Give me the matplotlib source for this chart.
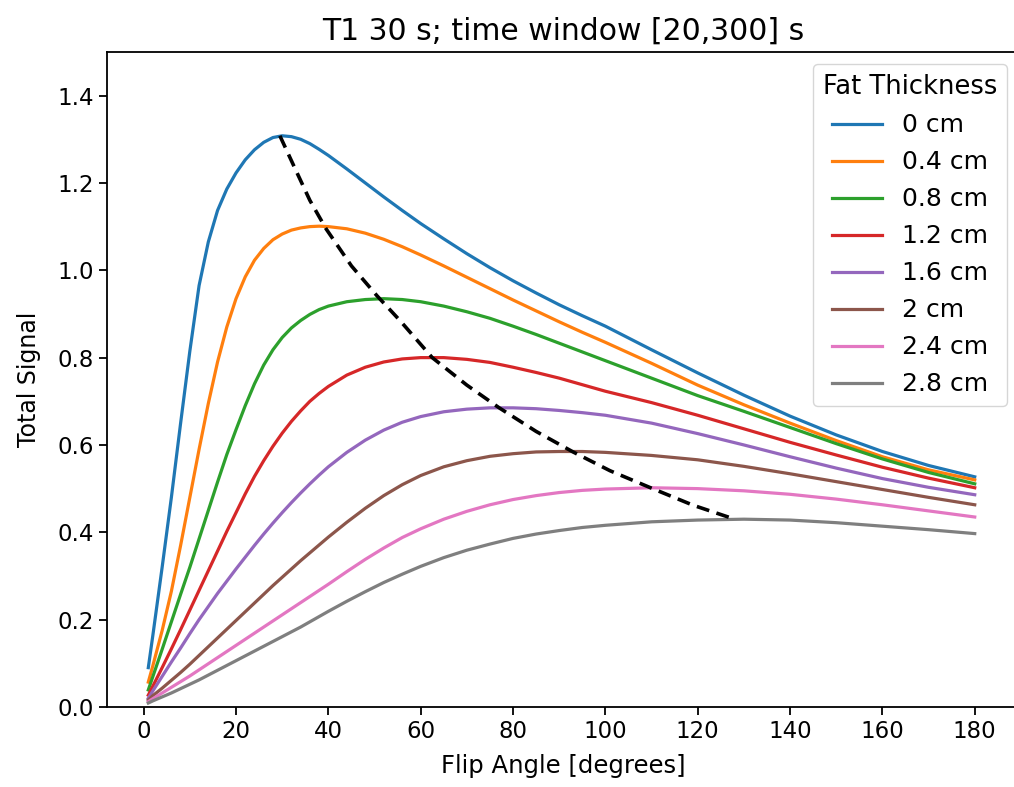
import matplotlib
matplotlib.use('Agg')
import matplotlib.pyplot as plt

# flip angle samples (degrees)
flip = [1, 2, 4, 6, 8, 10, 12, 14, 16, 18, 20, 22, 24, 26, 28, 30, 32, 34, 36, 38, 40,
        44, 48, 52, 56, 60, 65, 70, 75, 80, 85, 90, 95, 100, 110, 120, 130, 140, 150,
        160, 170, 180]

thickness_labels = ['0 cm', '0.4 cm', '0.8 cm', '1.2 cm', '1.6 cm', '2 cm', '2.4 cm', '2.8 cm']

sig_0_0 = [0.09, 0.165, 0.32, 0.48, 0.65, 0.815, 0.965, 1.065, 1.137, 1.186, 1.223, 1.253, 1.276,
           1.293, 1.304, 1.308, 1.306, 1.30, 1.29, 1.277, 1.263, 1.232, 1.20, 1.168, 1.137,
           1.107, 1.072, 1.038, 1.006, 0.976, 0.948, 0.921, 0.896, 0.872, 0.818, 0.765, 0.714,
           0.666, 0.623, 0.585, 0.553, 0.527]
sig_0_4 = [0.057, 0.095, 0.175, 0.265, 0.37, 0.48, 0.59, 0.695, 0.79, 0.87, 0.935, 0.985, 1.023,
           1.05, 1.07, 1.083, 1.092, 1.097, 1.10, 1.101, 1.10, 1.095, 1.085, 1.071, 1.054,
           1.035, 1.01, 0.984, 0.958, 0.932, 0.907, 0.882, 0.858, 0.835, 0.787, 0.737, 0.692,
           0.65, 0.61, 0.573, 0.543, 0.52]
sig_0_8 = [0.039, 0.07, 0.132, 0.195, 0.258, 0.32, 0.385, 0.45, 0.515, 0.578, 0.635, 0.69, 0.74,
           0.783, 0.818, 0.846, 0.868, 0.885, 0.899, 0.91, 0.918, 0.928, 0.933, 0.935, 0.933,
           0.928, 0.918, 0.905, 0.89, 0.872, 0.853, 0.833, 0.813, 0.793, 0.753, 0.713, 0.677,
           0.64, 0.603, 0.568, 0.537, 0.511]
sig_1_2 = [0.027, 0.048, 0.09, 0.133, 0.177, 0.222, 0.267, 0.312, 0.357, 0.402, 0.445, 0.488, 0.528,
           0.564, 0.597, 0.627, 0.654, 0.678, 0.70, 0.718, 0.734, 0.76, 0.778, 0.79, 0.797,
           0.80, 0.80, 0.796, 0.789, 0.778, 0.766, 0.753, 0.738, 0.723, 0.697, 0.668, 0.637,
           0.606, 0.577, 0.549, 0.524, 0.502]
sig_1_6 = [0.02, 0.037, 0.07, 0.103, 0.135, 0.168, 0.20, 0.23, 0.26, 0.288, 0.316, 0.343, 0.37,
           0.396, 0.421, 0.445, 0.468, 0.49, 0.511, 0.531, 0.55, 0.583, 0.611, 0.634, 0.652,
           0.665, 0.676, 0.682, 0.685, 0.685, 0.683, 0.679, 0.674, 0.668, 0.65, 0.626, 0.60,
           0.573, 0.547, 0.523, 0.503, 0.486]
sig_2_0 = [0.016, 0.026, 0.043, 0.061, 0.079, 0.098, 0.118, 0.138, 0.158, 0.178, 0.198, 0.218, 0.238,
           0.258, 0.278, 0.297, 0.316, 0.335, 0.353, 0.371, 0.389, 0.423, 0.455, 0.484, 0.509,
           0.53, 0.55, 0.564, 0.574, 0.58, 0.584, 0.585, 0.585, 0.583, 0.576, 0.566, 0.551,
           0.534, 0.516, 0.498, 0.48, 0.463]
sig_2_4 = [0.012, 0.019, 0.032, 0.045, 0.058, 0.071, 0.085, 0.099, 0.113, 0.127, 0.141, 0.155, 0.169,
           0.183, 0.197, 0.211, 0.225, 0.239, 0.253, 0.267, 0.281, 0.31, 0.338, 0.364, 0.388,
           0.408, 0.43, 0.448, 0.463, 0.475, 0.484, 0.491, 0.496, 0.499, 0.502, 0.50, 0.495,
           0.487, 0.476, 0.463, 0.449, 0.435]
sig_2_8 = [0.009, 0.014, 0.023, 0.032, 0.042, 0.052, 0.062, 0.073, 0.084, 0.095, 0.106, 0.117, 0.128,
           0.139, 0.15, 0.161, 0.172, 0.183, 0.195, 0.207, 0.219, 0.242, 0.264, 0.285, 0.304,
           0.322, 0.342, 0.359, 0.373, 0.386, 0.396, 0.404, 0.411, 0.416, 0.424, 0.428, 0.43,
           0.428, 0.422, 0.414, 0.406, 0.397]

# locus of the maxima (dashed)
peak_angle = [29.5, 33, 36, 39.5, 45, 50.5, 55.5, 62.5, 70, 77, 85, 93, 101, 110, 119, 128]
peak_signal = [1.308, 1.228, 1.16, 1.095, 1.01, 0.942, 0.885, 0.80, 0.737, 0.685, 0.631,
               0.584, 0.541, 0.501, 0.462, 0.43]

series = [sig_0_0, sig_0_4, sig_0_8, sig_1_2, sig_1_6, sig_2_0, sig_2_4, sig_2_8]

fig = plt.figure(figsize=(10.14, 7.87), dpi=100)
ax = fig.add_axes([0.1055, 0.1017, 0.9004, 0.8323])

for sig, lab in zip(series, thickness_labels):
    ax.plot(flip, sig, label=lab, linewidth=2.3)
ax.plot(peak_angle, peak_signal, color='k', linestyle='--', dashes=(3.6, 2.1), linewidth=2.6)

ax.set_xlim(-7.95, 189.8)
ax.set_ylim(0, 1.5)
ax.set_xticks(range(0, 181, 20))
ax.set_yticks([0.0, 0.2, 0.4, 0.6, 0.8, 1.0, 1.2, 1.4])
ax.tick_params(labelsize=16.5, length=5.7, width=1.3)
for s in ax.spines.values():
    s.set_linewidth(1.3)
ax.spines['right'].set_visible(False)  # cropped off in the original

ax.set_xlabel('Flip Angle [degrees]', fontsize=17.5, labelpad=8)
ax.set_ylabel('Total Signal', fontsize=17, labelpad=12)
ax.set_title('T1 30 s; time window [20,300] s', fontsize=21.5, pad=9)

ax.legend(title='Fat Thickness', loc='upper right', fontsize=18, title_fontsize=18.5,
          labelspacing=0.52)

fig.savefig('out.png', dpi=100)
